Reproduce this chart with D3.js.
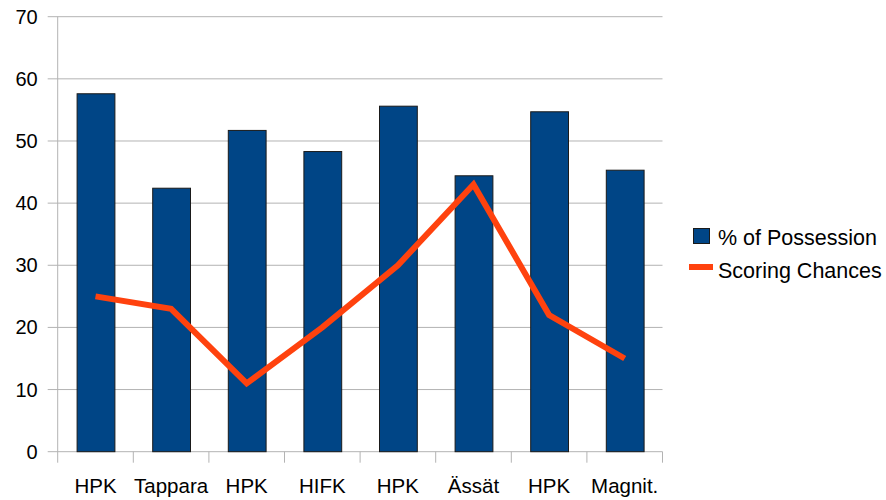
<!DOCTYPE html>
<html><head><meta charset="utf-8">
<script src="https://cdn.jsdelivr.net/npm/d3@7"></script>
<style>body{margin:0;background:#fff}svg{display:block}</style>
</head><body>
<svg id="c" width="886" height="500"></svg>
<script>
const categories = ["HPK","Tappara","HPK","HIFK","HPK","Ässät","HPK","Magnit."];
const possession = [57.6, 42.4, 51.7, 48.3, 55.6, 44.4, 54.7, 45.3];
const chances = [25, 23, 11, 20, 30, 43, 22, 15];
const yTicks = [0,10,20,30,40,50,60,70];
const seriesNames = ["% of Possession","Scoring Chances"];

const svg = d3.select("#c");
const L = 57.7, R = 662.5, T = 16.7, B = 451.7;
const x = d3.scaleBand().domain(d3.range(categories.length)).range([L, R]).paddingInner(0).paddingOuter(0);
const y = d3.scaleLinear().domain([0,70]).range([B, T]);
const font = "'Liberation Sans', Arial, sans-serif";

// gridlines
svg.append("g").selectAll("line").data(yTicks).join("line")
  .attr("x1", L-10).attr("x2", R).attr("y1", d=>y(d)).attr("y2", d=>y(d))
  .attr("stroke", "#b3b3b3").attr("stroke-width", 1);

// y axis line
svg.append("line").attr("x1", L).attr("x2", L).attr("y1", T).attr("y2", B)
  .attr("stroke", "#b3b3b3");

// y labels
svg.append("g").selectAll("text").data(yTicks).join("text")
  .attr("x", L-20).attr("y", d=>y(d)).attr("dy", "0.35em")
  .attr("text-anchor","end").attr("font-family", font).attr("font-size", 20)
  .attr("fill","#000").text(d=>d);

// x ticks
const xt = d3.range(categories.length+1).map(i => L + i*x.bandwidth());
svg.append("g").selectAll("line").data(xt).join("line")
  .attr("x1", d=>d).attr("x2", d=>d).attr("y1", B).attr("y2", B+11)
  .attr("stroke", "#b3b3b3");

// bars
const bw = x.bandwidth()*0.5;
svg.append("g").selectAll("rect").data(possession).join("rect")
  .attr("x", (d,i)=>x(i)+x.bandwidth()/2-bw/2+0.5)
  .attr("y", d=>y(d))
  .attr("width", bw).attr("height", d=>B-y(d))
  .attr("fill","#004586").attr("stroke","#1a1a1a").attr("stroke-width",1);

// x labels
svg.append("g").selectAll("text").data(categories).join("text")
  .attr("x", (d,i)=>x(i)+x.bandwidth()/2).attr("y", 493)
  .attr("text-anchor","middle").attr("font-family", font).attr("font-size", 20.5)
  .attr("fill","#000").text(d=>d);

// line
const line = d3.line().x((d,i)=>x(i)+x.bandwidth()/2).y(d=>y(d));
svg.append("path").datum(chances).attr("d", line)
  .attr("fill","none").attr("stroke","#ff420e").attr("stroke-width",6)
  .attr("stroke-linejoin","miter");

// legend
const lg = svg.append("g");
lg.append("rect").attr("x",693.5).attr("y",228.5).attr("width",16).attr("height",15)
  .attr("fill","#004586").attr("stroke","#1a1a1a");
lg.append("line").attr("x1",689).attr("x2",713).attr("y1",267).attr("y2",267)
  .attr("stroke","#ff420e").attr("stroke-width",6);
lg.append("text").attr("x",718).attr("y",245).attr("font-family",font).attr("font-size",21.5).text(seriesNames[0]);
lg.append("text").attr("x",718).attr("y",278).attr("font-family",font).attr("font-size",21.5).text(seriesNames[1]);
</script>
</body></html>
